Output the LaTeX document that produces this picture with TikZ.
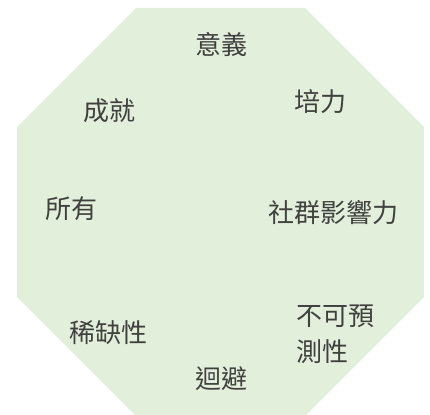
\documentclass[tikz,border=0pt]{standalone}
\usepackage{fontspec}
\setmainfont{Noto Sans CJK TC}
\definecolor{octfill}{HTML}{E2EFDA}
\definecolor{txtgray}{HTML}{404040}
\begin{document}
\begin{tikzpicture}[x=1pt,y=-1pt,
  lbl/.style={text=txtgray,font=\fontsize{26}{36}\selectfont,inner sep=0pt,align=left}]
\useasboundingbox (0,0) rectangle (430,414);
\fill[octfill] (136,8) -- (305,8) -- (424,127) -- (424,297) -- (305,416) -- (136,416) -- (17,297) -- (17,127) -- cycle;
\node[lbl] (yiyi) at (221,45) {意義};
\node[lbl] (peili) at (320,102) {培力};
\node[lbl] (chengjiu) at (109,111) {成就};
\node[lbl] (suoyou) at (71,209) {所有};
\node[lbl] (shequn) at (333,213) {社群影響力};
\node[lbl] (xique) at (108,333) {稀缺性};
\node[lbl] (buke) at (335,334) {不可預\\測性};
\node[lbl] (huibi) at (221,379) {迴避};
\end{tikzpicture}
\end{document}
